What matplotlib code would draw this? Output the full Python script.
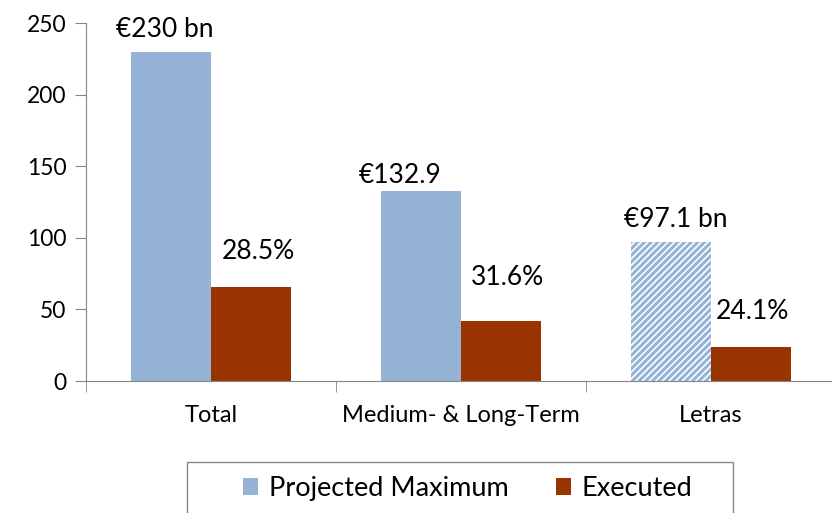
import matplotlib.pyplot as plt
from matplotlib.patches import Rectangle, Patch
import numpy as np

plt.rcParams['font.family'] = ['Lato', 'DejaVu Sans']
plt.rcParams['hatch.linewidth'] = 2.2

categories = ["Total", "Medium- & Long-Term", "Letras"]
projected = [230, 132.9, 97.1]
executed = [65.5, 42.0, 23.4]
proj_labels = ["€230 bn", "€132.9", "€97.1 bn"]
exec_labels = ["28.5%", "31.6%", "24.1%"]
series = ["Projected Maximum", "Executed"]

BLUE = "#95B3D7"
RED = "#993300"
GREY = "#868686"

fig = plt.figure(figsize=(8.32, 5.13), dpi=100)
ax = fig.add_axes([86 / 832, 1 - 381 / 513, 750 / 832, 358 / 513])

x = np.arange(len(categories))
w = 0.32
bars_p = ax.bar(x - w / 2, projected, w, color=BLUE)
# Letras projection drawn hatched
bars_p[2].set_facecolor("white")
bars_p[2].set_hatch("/////")
bars_p[2].set_edgecolor(BLUE)
bars_p[2].set_linewidth(0)
bars_e = ax.bar(x + w / 2, executed, w, color=RED)

# label placement (x shift from bar centre, baseline height in data units)
p_dx = [-0.024, -0.082, 0.02]
p_y = [240, 138.5, 107.5]
e_dx = [0.028, 0.024, 0.004]
e_y = [85.2, 67.0, 43.3]
for i in range(len(categories)):
    ax.text(x[i] - w / 2 + p_dx[i], p_y[i], proj_labels[i], ha="center",
            va="baseline", fontsize=19)
    ax.text(x[i] + w / 2 + e_dx[i], e_y[i], exec_labels[i], ha="center",
            va="baseline", fontsize=19)

ax.set_xlim(-0.5, 2.5)
ax.set_ylim(0, 250)
ax.set_yticks(range(0, 251, 50))
ax.set_xticks(x)
ax.set_xticklabels(categories, fontsize=17)
ax.set_xticks([-0.5, 0.5, 1.5, 2.5], minor=True)
ax.tick_params(axis="x", which="major", length=0, pad=17)
ax.tick_params(axis="x", which="minor", length=8, color=GREY, direction="out")
ax.tick_params(axis="y", length=8, color=GREY, direction="out", labelsize=16.5, pad=6)

for s in ["top", "right"]:
    ax.spines[s].set_visible(False)
for s in ["left", "bottom"]:
    ax.spines[s].set_color(GREY)

# legend box running off the bottom of the figure
fig.patches.append(Rectangle((187 / 832, -0.05), 546 / 832, 0.05 + 51 / 513,
                             transform=fig.transFigure, facecolor="white",
                             edgecolor=GREY, linewidth=1.0))
handles = [Patch(facecolor=BLUE), Patch(facecolor=RED)]
fig.legend(handles=handles, labels=series, loc="upper left",
           bbox_to_anchor=(243 / 832, 1 - 476 / 513), ncol=2, fontsize=19.5,
           frameon=False, handlelength=0.55, handleheight=0.55,
           columnspacing=1.75, borderpad=0, borderaxespad=0, handletextpad=0.4)

fig.savefig("out.png", dpi=100)
